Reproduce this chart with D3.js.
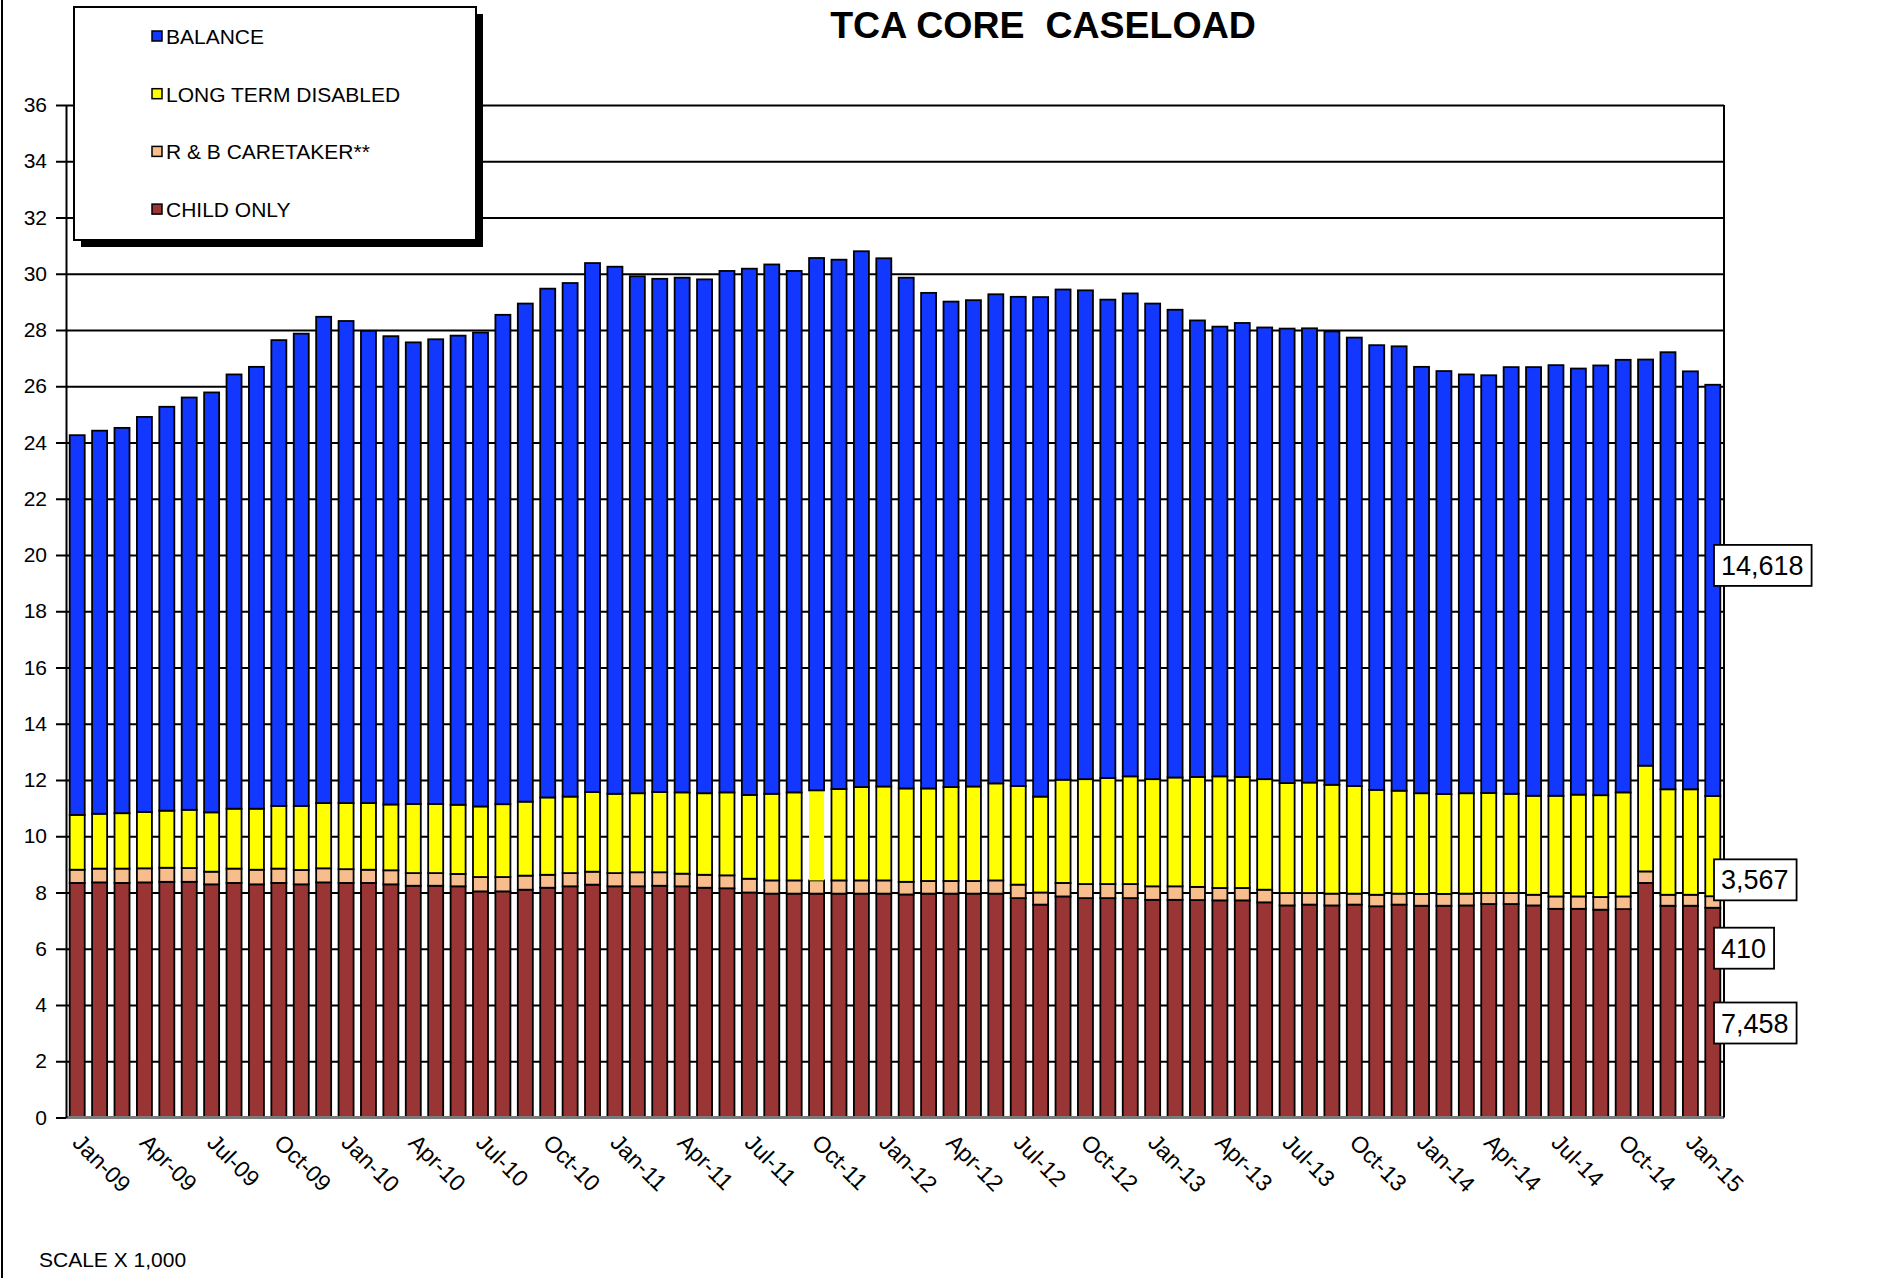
<!DOCTYPE html>
<html>
<head>
<meta charset="utf-8">
<title>TCA Core Caseload</title>
<script src="https://cdn.jsdelivr.net/npm/d3@7"></script>
<style>
  body { margin: 0; background: #fff; }
  svg text { font-family: "Liberation Sans", Arial, sans-serif; fill: #000; }
</style>
</head>
<body>
<div id="chart"></div>
<script>

// caseload in thousands, Jan-09 .. Feb-15
const months = [
  "Jan-09","Feb-09","Mar-09","Apr-09","May-09","Jun-09","Jul-09","Aug-09","Sep-09","Oct-09","Nov-09","Dec-09",
  "Jan-10","Feb-10","Mar-10","Apr-10","May-10","Jun-10","Jul-10","Aug-10","Sep-10","Oct-10","Nov-10","Dec-10",
  "Jan-11","Feb-11","Mar-11","Apr-11","May-11","Jun-11","Jul-11","Aug-11","Sep-11","Oct-11","Nov-11","Dec-11",
  "Jan-12","Feb-12","Mar-12","Apr-12","May-12","Jun-12","Jul-12","Aug-12","Sep-12","Oct-12","Nov-12","Dec-12",
  "Jan-13","Feb-13","Mar-13","Apr-13","May-13","Jun-13","Jul-13","Aug-13","Sep-13","Oct-13","Nov-13","Dec-13",
  "Jan-14","Feb-14","Mar-14","Apr-14","May-14","Jun-14","Jul-14","Aug-14","Sep-14","Oct-14","Nov-14","Dec-14",
  "Jan-15","Feb-15"
];

const childOnly = [
  8.34,8.36,8.34,8.36,8.38,8.38,8.29,8.34,8.29,8.34,8.29,8.36,
  8.34,8.34,8.29,8.24,8.24,8.22,8.04,8.04,8.10,8.17,8.22,8.28,
  8.22,8.22,8.24,8.22,8.17,8.15,8.00,7.96,7.96,7.96,7.96,7.96,
  7.96,7.93,7.96,7.96,7.96,7.96,7.80,7.57,7.86,7.80,7.80,7.80,
  7.74,7.74,7.73,7.72,7.72,7.65,7.54,7.57,7.54,7.57,7.51,7.57,
  7.53,7.53,7.54,7.59,7.59,7.54,7.42,7.42,7.39,7.41,8.34,7.53,
  7.53,7.458
];

const caretaker = [
  0.47,0.49,0.51,0.50,0.50,0.49,0.45,0.51,0.52,0.51,0.51,0.50,
  0.49,0.47,0.50,0.45,0.45,0.44,0.51,0.51,0.50,0.46,0.47,0.46,
  0.47,0.50,0.48,0.45,0.46,0.46,0.49,0.47,0.47,0.47,0.47,0.47,
  0.47,0.45,0.45,0.45,0.45,0.47,0.48,0.43,0.48,0.50,0.50,0.50,
  0.48,0.48,0.47,0.44,0.44,0.45,0.44,0.41,0.42,0.39,0.41,0.39,
  0.42,0.42,0.42,0.39,0.39,0.38,0.44,0.44,0.45,0.45,0.41,0.39,
  0.39,0.410
];

const longTerm = [
  1.95,1.95,1.97,2.00,2.03,2.07,2.11,2.13,2.17,2.23,2.28,2.32,
  2.35,2.37,2.34,2.46,2.46,2.46,2.51,2.59,2.63,2.75,2.72,2.83,
  2.82,2.81,2.85,2.89,2.90,2.95,2.98,3.08,3.13,3.20,3.25,3.32,
  3.34,3.32,3.29,3.34,3.36,3.45,3.51,3.41,3.67,3.73,3.77,3.83,
  3.81,3.87,3.91,3.97,3.95,3.93,3.91,3.93,3.87,3.83,3.73,3.66,
  3.58,3.55,3.57,3.56,3.53,3.52,3.58,3.62,3.62,3.70,3.76,3.75,
  3.75,3.567
];

const balance = [
  13.50,13.62,13.70,14.05,14.36,14.66,14.93,15.44,15.71,16.56,16.79,17.29,
  17.14,16.79,16.65,16.41,16.52,16.68,16.85,17.40,17.71,18.09,18.26,18.81,
  18.74,18.38,18.25,18.30,18.27,18.54,18.71,18.82,18.54,18.93,18.82,19.05,
  18.78,18.16,17.62,17.26,17.29,17.39,17.39,17.76,17.43,17.38,17.01,17.17,
  16.91,16.63,16.23,15.99,16.14,16.06,16.16,16.15,16.12,15.94,15.81,15.80,
  15.16,15.04,14.89,14.85,15.17,15.24,15.31,15.15,15.28,15.38,14.44,15.54,
  14.86,14.618
];

const seriesKeys = ["child", "rb", "ltd", "bal"];
const seriesNames = ["CHILD ONLY", "R & B CARETAKER**", "LONG TERM DISABLED", "BALANCE"];
const seriesColors = ["#993535", "#f8bd8d", "#ffff00", "#1238ff"];
const tickLabels = months.filter((m, i) => i % 3 === 0);
const yTicks = [0,2,4,6,8,10,12,14,16,18,20,22,24,26,28,30,32,34,36];

const width = 1881, height = 1278;
const plotLeft = 66, plotRight = 1724, plotTop = 105, plotBottom = 1117.5;

const table = months.map((m, i) => ({
  month: m, child: childOnly[i], rb: caretaker[i], ltd: longTerm[i], bal: balance[i]
}));

const svg = d3.select("#chart").append("svg")
  .attr("width", width)
  .attr("height", height);

const x = d3.scaleBand()
  .domain(months)
  .range([plotLeft, plotRight])
  .paddingInner(0.33)
  .paddingOuter(0.165);

const y = d3.scaleLinear()
  .domain([0, 36])
  .range([plotBottom, plotTop]);

// outer frame edge on the left
svg.append("line")
  .attr("x1", 2).attr("x2", 2)
  .attr("y1", 0).attr("y2", height)
  .attr("stroke", "#000").attr("stroke-width", 2);

// gridlines
svg.append("g")
  .attr("transform", `translate(${plotLeft},0)`)
  .call(d3.axisLeft(y).tickValues(yTicks.filter(v => v > 0)).tickSize(-(plotRight - plotLeft)).tickFormat(""))
  .call(g => g.select(".domain").remove())
  .call(g => g.selectAll("line").attr("stroke", "#000").attr("stroke-width", 2));

// bars
const stacked = d3.stack().keys(seriesKeys)(table);

svg.append("g")
  .selectAll("g")
  .data(stacked)
  .join("g")
    .attr("fill", (d, i) => seriesColors[i])
  .selectAll("rect")
  .data(d => d.map(v => Object.assign(v, {key: d.key})))
  .join("rect")
    .attr("x", d => x(d.data.month))
    .attr("y", d => y(d[1]))
    .attr("width", x.bandwidth())
    .attr("height", d => y(d[0]) - y(d[1]))
    .attr("stroke", d => (d.key === "ltd" && d.data.month === "Oct-11") ? "none" : "#000")
    .attr("stroke-width", 1.8);

// baseline
svg.append("line")
  .attr("x1", plotLeft).attr("x2", plotRight)
  .attr("y1", y(0)).attr("y2", y(0))
  .attr("stroke", "#7a7a7a").attr("stroke-width", 3);

// right edge of plot
svg.append("line")
  .attr("x1", plotRight).attr("x2", plotRight)
  .attr("y1", y(36)).attr("y2", y(0))
  .attr("stroke", "#000").attr("stroke-width", 2);

// y axis
svg.append("g")
  .attr("transform", `translate(${plotLeft},0)`)
  .call(d3.axisLeft(y).tickValues(yTicks).tickSize(10).tickSizeOuter(0).tickPadding(9))
  .call(g => g.select(".domain").attr("stroke", "#000").attr("stroke-width", 2))
  .call(g => g.selectAll(".tick line").attr("stroke", "#000").attr("stroke-width", 2))
  .call(g => g.selectAll(".tick text")
    .style("font-family", '"Liberation Sans", Arial, sans-serif')
    .style("font-size", "21px")
    .attr("fill", "#000"));

// x labels
svg.append("g")
  .selectAll("text")
  .data(tickLabels)
  .join("text")
    .attr("transform", d => `translate(${x(d) + x.bandwidth() / 2 - 6},1144) rotate(45)`)
    .attr("text-anchor", "start")
    .style("font-size", "23px")
    .text(d => d);

// title
svg.append("text")
  .attr("x", 1043)
  .attr("y", 38)
  .attr("text-anchor", "middle")
  .style("font-size", "37.5px")
  .style("font-weight", "bold")
  .style("white-space", "pre")
  .text("TCA CORE  CASELOAD");

svg.append("text")
  .attr("x", 39)
  .attr("y", 1267)
  .style("font-size", "21px")
  .text("SCALE X 1,000");

// legend
const legend = svg.append("g");
legend.append("rect")
  .attr("x", 81).attr("y", 14)
  .attr("width", 402).attr("height", 233)
  .attr("fill", "#000");
legend.append("rect")
  .attr("x", 74).attr("y", 7)
  .attr("width", 402).attr("height", 233)
  .attr("fill", "#fff")
  .attr("stroke", "#000").attr("stroke-width", 2);

const items = legend.selectAll("g.item")
  .data(seriesNames.map((n, i) => ({name: n, color: seriesColors[i]})).reverse())
  .join("g")
    .attr("class", "item")
    .attr("transform", (d, i) => `translate(0,${44 + i * 57.7})`);

items.append("rect")
  .attr("x", 152).attr("y", -13)
  .attr("width", 10).attr("height", 10)
  .attr("fill", d => d.color)
  .attr("stroke", "#000").attr("stroke-width", 1.5);

items.append("text")
  .attr("x", 166)
  .attr("y", 0)
  .style("font-size", "21px")
  .text(d => d.name);

// value labels for the last month (dragged off the bar in the original)
const last = table[table.length - 1];
const labelAt = {child: 3.36, rb: 6.02, ltd: 8.45, bal: 19.63};
const fmt = d3.format(",");

seriesKeys.forEach(k => {
  const g = svg.append("g").attr("transform", `translate(1714,${y(labelAt[k])})`);
  const box = g.append("rect")
    .attr("y", -20.5).attr("height", 41)
    .attr("fill", "#fff")
    .attr("stroke", "#000").attr("stroke-width", 1.8);
  const t = g.append("text")
    .attr("x", 7)
    .attr("y", 9.5)
    .style("font-size", "27px")
    .text(fmt(Math.round(last[k] * 1000)));
  box.attr("width", t.node().getComputedTextLength() + 15);
});

</script>
</body>
</html>
